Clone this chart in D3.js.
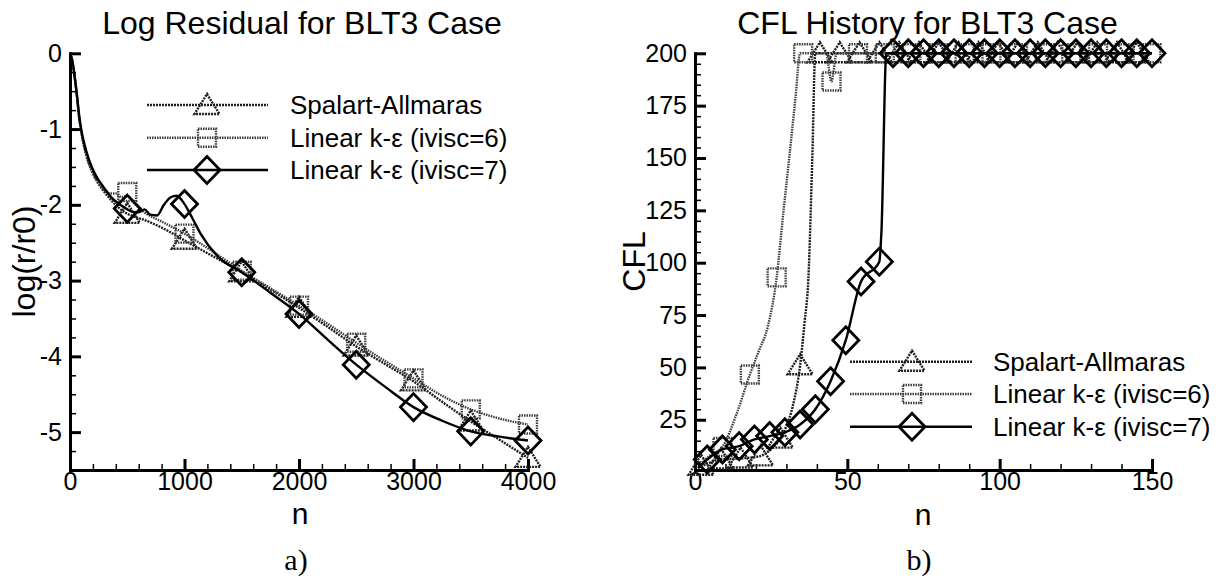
<!DOCTYPE html>
<html><head><meta charset="utf-8">
<script src="https://cdn.jsdelivr.net/npm/d3@7"></script>
<style>
html,body{margin:0;padding:0;background:#fff;}
svg text{font-family:"Liberation Sans",Arial,Helvetica,sans-serif;fill:#000;}
</style></head><body>
<svg id="c" width="1228" height="580"></svg>
<script>
// ---------- Legend / series labels ----------
const seriesLabels = ["Spalart-Allmaras", "Linear k-\u03b5 (ivisc=6)", "Linear k-\u03b5 (ivisc=7)"];

// ---------- Chart a) Log residual ----------
const resSA_n = [0, 20, 40, 60, 80, 100, 140, 190, 240, 300, 360, 420, 480, 550, 650, 800, 1000, 1250, 1500, 1750, 2000, 2250, 2500, 2750, 3000, 3250, 3500, 3750, 4000];
const resSA_v = [0, -0.1, -0.3, -0.55, -0.85, -1.05, -1.33, -1.55, -1.7, -1.83, -1.94, -2.03, -2.1, -2.15, -2.2, -2.3, -2.47, -2.68, -2.89, -3.12, -3.36, -3.61, -3.87, -4.1, -4.33, -4.6, -4.86, -5.1, -5.34];
const resK6_n = [0, 20, 40, 60, 80, 100, 140, 190, 240, 300, 350, 400, 450, 500, 560, 650, 800, 1000, 1250, 1500, 1750, 2000, 2250, 2500, 2750, 3000, 3250, 3500, 3750, 4000];
const resK6_v = [0, -0.1, -0.3, -0.55, -0.85, -1.05, -1.33, -1.55, -1.68, -1.8, -1.85, -1.85, -1.9, -1.88, -1.98, -2.1, -2.22, -2.38, -2.62, -2.87, -3.1, -3.33, -3.57, -3.82, -4.06, -4.29, -4.52, -4.7, -4.82, -4.9];
const resK7_n = [0, 20, 40, 60, 80, 100, 140, 190, 240, 300, 360, 420, 480, 540, 600, 650, 700, 760, 820, 880, 930, 1000, 1070, 1140, 1290, 1500, 1750, 2000, 2250, 2500, 2750, 3000, 3250, 3500, 3750, 4000];
const resK7_v = [0, -0.1, -0.3, -0.55, -0.82, -1.02, -1.28, -1.5, -1.65, -1.78, -1.9, -1.98, -2.04, -2.09, -2.1, -2.06, -2.13, -2.14, -2.0, -1.9, -1.88, -1.99, -2.18, -2.38, -2.68, -2.89, -3.16, -3.44, -3.78, -4.11, -4.4, -4.67, -4.85, -4.99, -5.06, -5.11];
const resMark_n = [500, 1000, 1500, 2000, 2500, 3000, 3500, 4000];
const resSA_m = [-2.12, -2.46, -2.89, -3.36, -3.87, -4.33, -4.86, -5.34];
const resK6_m = [-1.83, -2.38, -2.87, -3.33, -3.82, -4.29, -4.70, -4.90];
const resK7_m = [-2.05, -1.99, -2.89, -3.44, -4.11, -4.67, -4.99, -5.11];
const resTicksX = [0, 1000, 2000, 3000, 4000];
const resTicksY = [0, -1, -2, -3, -4, -5];

// ---------- Chart b) CFL history ----------
const cflSA_n = [1, 4, 8, 14.5, 21, 25, 28, 30, 32, 34.5, 36, 37.2, 38.5, 39.5, 150];
const cflSA_v = [2, 4, 6, 6.5, 7.5, 11, 16, 22, 31, 51, 72, 92, 150, 200, 200];
const cflK6_n = [1, 5, 9, 13.7, 18, 21, 24, 26.8, 29, 31, 33, 34.5, 43, 44.8, 46.5, 150];
const cflK6_v = [3, 8, 12, 28, 46.6, 58, 70, 93, 124, 151, 179, 200, 200, 186.5, 200, 200];
const cflK7_n = [1, 4, 9, 14.5, 19.5, 24.5, 29.5, 34.5, 39.5, 44.5, 49.5, 54.5, 60.5, 61.2, 62.8, 150];
const cflK7_v = [2, 6, 10.8, 12.4, 15.6, 17.2, 19, 22.7, 30, 43.4, 63, 91, 100.5, 115, 200, 200];
const cflSA_mn = [2, 8.5, 15, 21.5, 28, 34.5, 41, 47.5, 54, 60.5, 67, 73.5, 80, 86.5, 93, 99.5, 106, 112.5, 119, 125.5, 132, 138.5, 145];
const cflSA_mv = [3, 6, 6.5, 7.5, 16, 51, 200, 200, 200, 200, 200, 200, 200, 200, 200, 200, 200, 200, 200, 200, 200, 200, 200];
const cflK6_mn = [9, 18, 26.8, 35.5, 44.8, 53.5, 62.3, 71, 79.8, 88.5, 97.3, 106, 114.8, 123.5, 132.3, 141, 149.8];
const cflK6_mv = [12, 46.6, 93, 200, 186.5, 200, 200, 200, 200, 200, 200, 200, 200, 200, 200, 200, 200];
const cflK7_mn = [4, 9, 14.5, 19.5, 24.5, 29.5, 34.5, 39.5, 44.5, 49.5, 54.5, 60.5, 65, 70, 75, 80, 85, 90, 95, 100, 105, 110, 115, 120, 125, 130, 135, 140, 145, 150];
const cflK7_mv = [6, 10.8, 12.4, 15.6, 17.2, 19, 22.7, 30, 43.4, 63, 91, 100.5, 200, 200, 200, 200, 200, 200, 200, 200, 200, 200, 200, 200, 200, 200, 200, 200, 200, 200];
const cflTicksX = [0, 50, 100, 150];
const cflTicksY = [25, 50, 75, 100, 125, 150, 175, 200];

// ---------- styles ----------
const styles = [
  {stroke: "#1e1e1e", dash: "2 1", width: 2.4, shape: "tri"},
  {stroke: "#3c3c3c", dash: "1.5 1", width: 2.4, shape: "sq"},
  {stroke: "#000", dash: null, width: 2.4, shape: "dia"}
];
const shapes = {
  tri: "M0,-11L12.5,9L-12.5,9Z",
  sq: "M-9,-9H9V9H-9Z",
  dia: "M0,-13.5L13,0L0,13.5L-13,0Z"
};

const svg = d3.select("#c");

function drawAxes(g, x, y, xMajor, yMajor, xMinor, yMinor) {
  const y0 = y.range()[0], x0 = x.range()[0];
  const minorStyle = s => { s.select(".domain").remove(); s.selectAll("line").attr("stroke", "#000").attr("stroke-width", 1.5); };
  g.append("g").attr("transform", `translate(0,${y0})`)
    .call(d3.axisBottom(x).tickValues(xMinor).tickSizeInner(-6).tickSizeOuter(0).tickFormat(""))
    .call(minorStyle);
  g.append("g").attr("transform", `translate(${x0},0)`)
    .call(d3.axisLeft(y).tickValues(yMinor).tickSizeInner(-6).tickSizeOuter(0).tickFormat(""))
    .call(minorStyle);
  const majorStyle = s => {
    s.select(".domain").attr("stroke", "#000").attr("stroke-width", 3).attr("stroke-linecap", "square");
    s.selectAll("line").attr("stroke", "#000").attr("stroke-width", 3);
    s.selectAll("text").attr("font-size", 25).attr("font-family", "Liberation Sans, Arial, sans-serif").attr("fill", "#000");
  };
  g.append("g").attr("transform", `translate(0,${y0})`)
    .call(d3.axisBottom(x).tickValues(xMajor).tickSizeInner(-11).tickSizeOuter(0).tickPadding(2).tickFormat(d => String(d)))
    .call(majorStyle)
    .selectAll("text").attr("dy", "0.71em");
  g.append("g").attr("transform", `translate(${x0},0)`)
    .call(d3.axisLeft(y).tickValues(yMajor).tickSizeInner(-11).tickSizeOuter(0).tickPadding(8).tickFormat(d => String(d)))
    .call(majorStyle);
}

function drawSeries(g, x, y, ns, vs, mn, mv, st, curve) {
  const pts = ns.map((n, i) => [n, vs[i]]);
  const line = d3.line().x(d => x(d[0])).y(d => y(d[1])).curve(curve);
  g.append("path").attr("d", line(pts)).attr("fill", "none")
    .attr("stroke", st.stroke).attr("stroke-width", st.width)
    .attr("stroke-dasharray", st.dash);
  const mp = mn.map((n, i) => [n, mv[i]]);
  g.selectAll(null).data(mp).enter().append("path")
    .attr("d", shapes[st.shape])
    .attr("transform", d => `translate(${x(d[0])},${y(d[1])})`)
    .attr("fill", "none").attr("stroke", st.stroke).attr("stroke-width", st.shape === "dia" ? 2.8 : 2.4)
    .attr("stroke-dasharray", st.dash);
}

function drawLegend(g, x1, x2, mx, tx, rows) {
  rows.forEach((ry, i) => {
    const st = styles[i];
    g.append("line").attr("x1", x1).attr("x2", x2).attr("y1", ry).attr("y2", ry)
      .attr("stroke", st.stroke).attr("stroke-width", 2.6).attr("stroke-dasharray", st.dash);
    g.append("path").attr("d", shapes[st.shape]).attr("transform", `translate(${mx},${ry})`)
      .attr("fill", "none").attr("stroke", st.stroke).attr("stroke-width", st.shape === "dia" ? 2.8 : 2.4)
      .attr("stroke-dasharray", st.dash);
    g.append("text").attr("x", tx).attr("y", ry + 9).attr("font-size", 26).text(seriesLabels[i]);
  });
}

// ---------- Chart a ----------
{
  const g = svg.append("g");
  const x = d3.scaleLinear().domain([0, 4000]).range([70, 528]);
  const y = d3.scaleLinear().domain([-5.5, 0]).range([470, 53.3]);
  drawAxes(g, x, y, resTicksX, resTicksY,
    d3.range(200, 4000, 200).filter(v => v % 1000 !== 0),
    d3.range(-5.25, 0, 0.25).filter(v => Math.abs(v - Math.round(v)) > 1e-9));
  const curve = d3.curveMonotoneX;
  drawSeries(g, x, y, resSA_n, resSA_v, resMark_n, resSA_m, styles[0], curve);
  drawSeries(g, x, y, resK6_n, resK6_v, resMark_n, resK6_m, styles[1], curve);
  drawSeries(g, x, y, resK7_n, resK7_v, resMark_n, resK7_m, styles[2], curve);
  drawLegend(g, 147, 268, 207, 290, [105, 137.7, 170]);
  g.append("text").attr("x", 302).attr("y", 34).attr("text-anchor", "middle").attr("font-size", 32).text("Log Residual for BLT3 Case");
  g.append("text").attr("transform", "translate(35,261.5) rotate(-90)").attr("text-anchor", "middle").attr("font-size", 32).text("log(r/r0)");
  g.append("text").attr("x", 300).attr("y", 524).attr("text-anchor", "middle").attr("font-size", 30).text("n");
  g.append("text").attr("x", 296).attr("y", 570).attr("text-anchor", "middle").attr("font-size", 30)
    .style("font-family", "'Liberation Serif', 'DejaVu Serif', serif").text("a)");
}

// ---------- Chart b ----------
{
  const g = svg.append("g");
  const x = d3.scaleLinear().domain([0, 150]).range([695, 1152]);
  const y = d3.scaleLinear().domain([1, 200]).range([470, 53.3]);
  drawAxes(g, x, y, cflTicksX, cflTicksY,
    d3.range(10, 150, 10).filter(v => v % 50 !== 0),
    d3.range(5, 200, 5).filter(v => v % 25 !== 0));
  const curve = d3.curveMonotoneX;
  drawSeries(g, x, y, cflSA_n, cflSA_v, cflSA_mn, cflSA_mv, styles[0], curve);
  drawSeries(g, x, y, cflK6_n, cflK6_v, cflK6_mn, cflK6_mv, styles[1], curve);
  drawSeries(g, x, y, cflK7_n, cflK7_v, cflK7_mn, cflK7_mv, styles[2], curve);
  drawLegend(g, 850, 972, 912, 993, [361.7, 394, 426.7]);
  g.append("text").attr("x", 927.5).attr("y", 34).attr("text-anchor", "middle").attr("font-size", 32).text("CFL History for BLT3 Case");
  g.append("text").attr("transform", "translate(645,261.5) rotate(-90)").attr("text-anchor", "middle").attr("font-size", 32).text("CFL");
  g.append("text").attr("x", 923).attr("y", 525).attr("text-anchor", "middle").attr("font-size", 30).text("n");
  g.append("text").attr("x", 919).attr("y", 570).attr("text-anchor", "middle").attr("font-size", 30)
    .style("font-family", "'Liberation Serif', 'DejaVu Serif', serif").text("b)");
}
</script></body></html>
